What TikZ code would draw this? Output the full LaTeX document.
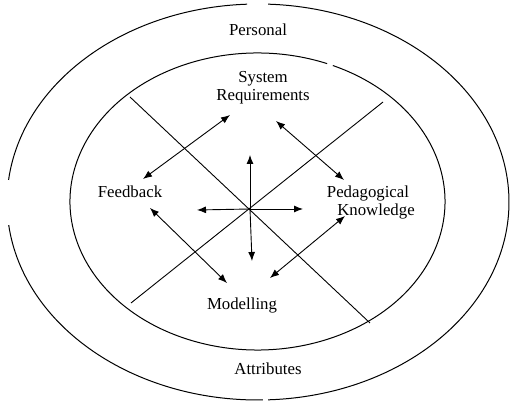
\documentclass[tikz,border=0pt]{standalone}
\usepackage{fontspec}
\setmainfont{Liberation Serif}
\usetikzlibrary{arrows.meta}
\begin{document}
\begin{tikzpicture}[x=1pt,y=1pt,
  ring/.style={line width=1pt},
  divider/.style={line width=0.9pt},
  link/.style={line width=0.9pt,{Latex[length=9pt,width=7pt]}-{Latex[length=9pt,width=7pt]}},
  ray/.style={line width=0.9pt,-{Latex[length=9pt,width=7pt]}},
  lbl/.style={inner sep=0pt,font=\fontsize{16.8}{18}\selectfont}]
\useasboundingbox[fill=white] (0,0) rectangle (512,409);
% outer ellipse (with small gaps as in the reference)
\coordinate (oc) at (258,207);
\draw[ring] (oc) ++(92.5:251pt and 198pt) arc[start angle=92.5, end angle=173.6, x radius=251pt, y radius=198pt];
\draw[ring] (oc) ++(186.7:251pt and 198pt) arc[start angle=186.7, end angle=271.1, x radius=251pt, y radius=198pt];
\draw[ring] (oc) ++(272.3:251pt and 198pt) arc[start angle=272.3, end angle=447.7, x radius=251pt, y radius=198pt];
% inner ellipse
\coordinate (ic) at (257.5,207.5);
\draw[ring] (ic) ++(68.2:187.5pt and 148.5pt) arc[start angle=68.2, end angle=426.3, x radius=187.5pt, y radius=148.5pt];
% dividing lines
\coordinate (d1a) at (130,312);
\coordinate (d1b) at (370,86);
\coordinate (d2a) at (383,307);
\coordinate (d2b) at (131,106);
\draw[divider] (d1a) -- (d1b);
\draw[divider] (d2a) -- (d2b);
% labels
\node[lbl] (personal) at (258,379) {Personal};
\node[lbl,align=center] (sysreq) at (263,321) {System\\Requirements};
\node[lbl] (feedback) at (130,217) {Feedback};
\node[lbl] (pedag) at (368,216) {Pedagogical};
\node[lbl] (know) at (376,198) {Knowledge};
\node[lbl] (model) at (242,104) {Modelling};
\node[lbl] (attr) at (268,40) {Attributes};
% central cross of arrows
\coordinate (ctr) at (250,200);
\coordinate (up) at (250,254);
\coordinate (dn) at (252,148);
\coordinate (lf) at (197,199);
\coordinate (rt) at (303,200);
\draw[ray] (ctr) -- (up);
\draw[ray] (ctr) -- (dn);
\draw[ray] (ctr) -- (lf);
\draw[ray] (ctr) -- (rt);
% diagonal double arrows
\coordinate (fs1) at (143,230);
\coordinate (fs2) at (230,294);
\coordinate (sp1) at (276,288);
\coordinate (sp2) at (344,229);
\coordinate (fm1) at (150,201);
\coordinate (fm2) at (227,126);
\coordinate (pm1) at (345,193);
\coordinate (pm2) at (270,131);
\draw[link] (fs1) -- (fs2);
\draw[link] (sp1) -- (sp2);
\draw[link] (fm1) -- (fm2);
\draw[link] (pm1) -- (pm2);
\end{tikzpicture}
\end{document}
